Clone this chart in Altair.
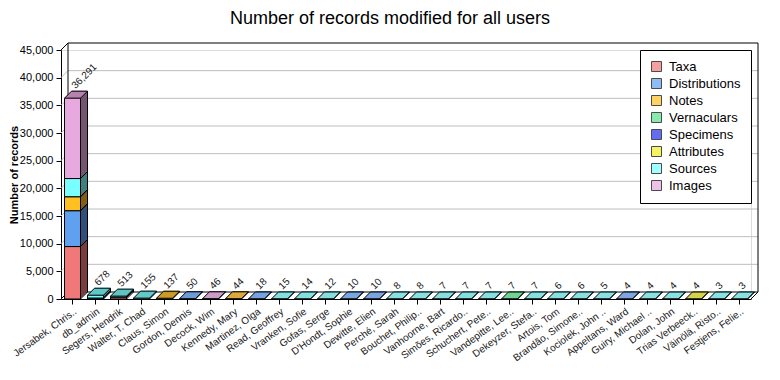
import altair as alt
import pandas as pd

users = ["Jersabek, Chris..", "db_admin", "Segers, Hendrik", "Walter, T. Chad", "Claus, Simon",
         "Gordon, Dennis", "Decock, Wim", "Kennedy, Mary", "Martinez, Olga", "Read, Geoffrey",
         "Vranken, Sofie", "Gofas, Serge", "D'Hondt, Sophie", "Dewitte, Elien", "Perché, Sarah",
         "Bouchet, Philip..", "Vanhoorne, Bart", "Simões, Ricardo..", "Schuchert, Pete..", "Vandepitte, Lee..",
         "Dekeyzer, Stefa..", "Artois, Tom", "Brandão, Simone..", "Kociolek, John ..", "Appeltans, Ward",
         "Guiry, Michael ..", "Dolan, John", "Trias Verbeeck..", "Väinölä, Risto..", "Festjens, Felie.."]

series = ["Taxa", "Distributions", "Notes", "Vernaculars", "Specimens", "Attributes", "Sources", "Images"]

taxa          = [9480, 0, 330, 0, 0, 0, 0, 0, 0, 0, 0, 0, 0, 0, 0, 0, 0, 0, 0, 0, 0, 0, 0, 0, 0, 0, 0, 0, 0, 0]
distributions = [6480, 180, 0, 0, 0, 50, 0, 0, 18, 0, 0, 0, 10, 10, 0, 0, 0, 0, 0, 0, 0, 0, 0, 0, 4, 0, 0, 0, 0, 0]
notes         = [2520, 0, 0, 0, 137, 0, 0, 44, 0, 0, 0, 0, 0, 0, 0, 0, 0, 0, 0, 0, 0, 0, 0, 0, 0, 0, 0, 0, 0, 0]
vernaculars   = [0, 0, 0, 0, 0, 0, 0, 0, 0, 0, 0, 0, 0, 0, 0, 0, 0, 0, 0, 7, 0, 0, 0, 0, 0, 0, 0, 0, 0, 0]
specimens     = [0, 0, 0, 0, 0, 0, 0, 0, 0, 0, 0, 0, 0, 0, 0, 0, 0, 0, 0, 0, 0, 0, 0, 0, 0, 0, 0, 0, 0, 0]
attributes    = [0, 0, 0, 0, 0, 0, 0, 0, 0, 0, 0, 0, 0, 0, 0, 0, 0, 0, 0, 0, 0, 0, 0, 0, 0, 0, 0, 4, 0, 0]
sources       = [3290, 498, 183, 155, 0, 0, 0, 0, 0, 15, 14, 12, 0, 0, 8, 8, 7, 7, 7, 0, 7, 6, 6, 5, 0, 4, 4, 0, 3, 3]
images        = [14521, 0, 0, 0, 0, 0, 46, 0, 0, 0, 0, 0, 0, 0, 0, 0, 0, 0, 0, 0, 0, 0, 0, 0, 0, 0, 0, 0, 0, 0]

y_ticks = [0, 5000, 10000, 15000, 20000, 25000, 30000, 35000, 40000, 45000]

# styles
front_colors = ["#F07878", "#60A0F0", "#FFC020", "#55E08A", "#2030F0", "#F0F020", "#78FFFF", "#E8A8E0"]
side_colors  = ["#7A3C3C", "#30507A", "#806010", "#287044", "#101878", "#787810", "#3C8080", "#745470"]
top_colors   = ["#CC6666", "#5A8FD8", "#D8A020", "#4CC878", "#1C2AD0", "#C8C820", "#68D8D8", "#C890C0"]

W, H, D = 690, 249, 7
FONT = "Liberation Sans"
YTITLE = "Number of records"

values = [taxa, distributions, notes, vernaculars, specimens, attributes, sources, images]
rows, tots = [], []
for i, u in enumerate(users):
    base = 0
    last = None
    for s_i, s in enumerate(series):
        v = values[s_i][i]
        if v > 0:
            rows.append(dict(user=u, series=s, y0=base, y1=base + v, side=side_colors[s_i]))
            base += v
            last = s_i
    tots.append(dict(user=u, total=base, top=top_colors[last]))
seg = pd.DataFrame(rows)
tot = pd.DataFrame(tots)
grid = pd.DataFrame({"v": y_ticks})

xscale = alt.Scale(domain=users, paddingInner=0.3, paddingOuter=0.15)
yscale = alt.Scale(domain=[0, 45000], nice=False)

X_AX = alt.Axis(labelAngle=324, labelFontSize=10, labelColor="#202020", tickColor="black",
                domainColor="black", tickSize=5, labelPadding=2, labelFont=FONT, labelLimit=200)
Y_AX = alt.Axis(values=y_ticks, format=",d", grid=False, labelFontSize=11, labelColor="black",
                tickColor="black", domainColor="black", tickSize=5, labelPadding=3,
                titleFontSize=11, titleFontWeight="bold", titleColor="black",
                titlePadding=0, labelFont=FONT, titleFont=FONT)


def X():
    return alt.X("user:N", scale=xscale, sort=users, title=None, axis=X_AX)


def Y(f):
    return alt.Y(f, scale=yscale, title=YTITLE, axis=Y_AX)


X2 = alt.X2("user:N")

layers = []

# back wall gridlines
inner = grid[(grid.v > 0) & (grid.v < 45000)]
layers.append(alt.Chart(inner).mark_rule(color="#BEBEBE", yOffset=-D).encode(
    x=alt.value(D), x2=alt.value(W + D), y=Y("v:Q")))
layers.append(alt.Chart(inner).mark_rule(color="#BEBEBE", y2Offset=-D).encode(
    x=alt.value(0), x2=alt.value(D), y=Y("v:Q"), y2=alt.Y2("v")))
edges = grid[(grid.v == 0) | (grid.v == 45000)]
layers.append(alt.Chart(edges).mark_rule(color="black", y2Offset=-D).encode(
    x=alt.value(0), x2=alt.value(D), y=Y("v:Q"), y2=alt.Y2("v")))
layers.append(alt.Chart(grid[grid.v == 0]).mark_rule(color="black", y2Offset=-D).encode(
    x=alt.value(W), x2=alt.value(W + D), y=Y("v:Q"), y2=alt.Y2("v")))
# back wall frame
layers.append(alt.Chart(grid[grid.v == 45000]).mark_rect(
    fillOpacity=0, stroke="black", strokeWidth=1, yOffset=-D, y2Offset=-D).encode(
    x=alt.value(D), x2=alt.value(W + D), y=Y("v:Q"), y2=alt.datum(0)))

# side faces
for k in range(D, 0, -1):
    layers.append(alt.Chart(seg).mark_bar(width=16, xOffset=k, x2Offset=k, yOffset=-k, y2Offset=-k).encode(
        x=X(), y=Y("y0:Q"), y2=alt.Y2("y1"),
        color=alt.Color("side:N", scale=None)))
# top faces
for k in range(1, D + 1):
    layers.append(alt.Chart(tot).mark_tick(orient="horizontal", size=16, thickness=1.5,
                                           xOffset=k, yOffset=-k).encode(
        x=X(), y=Y("total:Q"), color=alt.Color("top:N", scale=None)))

# front faces (with legend)
front = alt.Chart(seg).mark_bar(width=16, stroke="black", strokeWidth=1).encode(
    x=X(), y=Y("y0:Q"), y2=alt.Y2("y1"),
    color=alt.Color("series:N", scale=alt.Scale(domain=series, range=front_colors),
                    legend=alt.Legend(title=None, orient="none", legendX=579, legendY=0,
                                      symbolType="square", symbolSize=100, symbolStrokeColor="black",
                                      symbolStrokeWidth=1, symbolOpacity=1, labelFontSize=13,
                                      labelColor="black", labelFont=FONT, labelOffset=6, padding=10,
                                      rowPadding=2, strokeColor="black", fillColor="white")))
layers.append(front)

# 3D edges
edge_df = pd.concat([seg[["user", "y0"]].rename(columns={"y0": "y"}),
                     seg[["user", "y1"]].rename(columns={"y1": "y"})])
layers.append(alt.Chart(edge_df).mark_rule(color="black", xOffset=8, x2Offset=8 + D, y2Offset=-D).encode(
    x=X(), x2=X2, y=Y("y:Q"), y2=alt.Y2("y")))
layers.append(alt.Chart(tot).mark_rule(color="black", xOffset=-8, x2Offset=-8 + D, y2Offset=-D).encode(
    x=X(), x2=X2, y=Y("total:Q"), y2=alt.Y2("total")))
layers.append(alt.Chart(tot).mark_rule(color="black", xOffset=-8 + D, x2Offset=8 + D,
                                       yOffset=-D, y2Offset=-D).encode(
    x=X(), x2=X2, y=Y("total:Q"), y2=alt.Y2("total")))
layers.append(alt.Chart(tot).mark_rule(color="black", xOffset=8 + D, yOffset=-D, y2Offset=-D).encode(
    x=X(), y=Y("total:Q"), y2=alt.datum(0)))

# value labels
layers.append(alt.Chart(tot).mark_text(angle=315, align="left", baseline="middle", fontSize=10,
                                       color="#202020", font=FONT, xOffset=1, yOffset=-11).encode(
    x=X(), y=Y("total:Q"), text=alt.Text("total:Q", format=",d")))

chart = alt.layer(*layers).properties(
    width=W, height=H, autosize="none",
    padding={"left": 53, "top": 42, "right": 17, "bottom": 73},
    title=alt.Title("Number of records modified for all users", fontSize=18, fontWeight="normal",
                    font=FONT, color="black", anchor="middle", dx=-16, offset=15),
).configure_view(stroke=None).configure(font=FONT)

chart.save("out.html", embed_options={"renderer": "svg", "actions": False})
